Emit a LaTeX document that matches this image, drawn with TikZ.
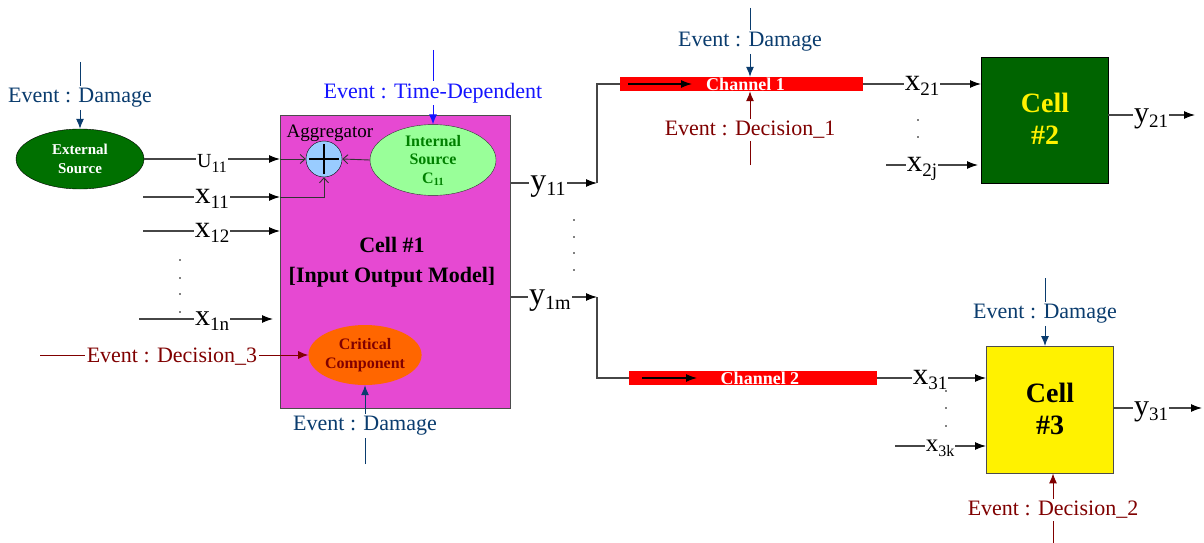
\documentclass[tikz,border=0pt]{standalone}
\usepackage{fontspec}
\setmainfont{Liberation Serif}
\usetikzlibrary{arrows.meta,shapes.geometric}
\definecolor{magC}{RGB}{230,73,210}
\definecolor{extgreen}{RGB}{0,112,0}
\definecolor{intgreen}{RGB}{153,255,153}
\definecolor{intText}{RGB}{0,128,0}
\definecolor{orangeC}{RGB}{255,102,0}
\definecolor{dred}{RGB}{128,0,0}
\definecolor{dblue}{RGB}{10,60,110}
\definecolor{tblue}{RGB}{20,20,255}
\definecolor{aggblue}{RGB}{153,204,255}
\definecolor{c2green}{RGB}{0,100,0}
\definecolor{wgray}{RGB}{70,70,70}
\newcommand\fs[1]{\fontsize{#1}{#1}\selectfont}
\newcommand\fsb[2]{\fontsize{#1}{#2}\selectfont}
\newcommand\sub[2]{\raisebox{-5pt}{\fontsize{#1}{#1}\selectfont #2}}
\begin{document}
\begin{tikzpicture}[x=1pt,y=-1pt,
  wire/.style={draw=wgray,line width=1.1pt},
  arr/.style={-{Latex[length=11pt,width=8pt,color=black]}},
  barb/.style={draw=black!80,line width=0.9pt,-{Straight Barb[length=5pt,width=9pt]}},
  evarr/.style={line width=1pt,-{Latex[length=10pt,width=8pt]}},
  evline/.style={line width=1pt},
  evtext/.style={font=\fs{22},inner sep=2pt,fill=white},
  siglab/.style={anchor=base,fill=white,inner sep=1pt},
  dotn/.style={circle,fill=black,inner sep=0pt,minimum size=1.8pt},
  chan/.style={fill=red,text=white,font=\bfseries\fs{18},inner sep=0pt,text height=12pt,text depth=0pt,minimum height=14pt}]
\useasboundingbox[fill=white] (0,0) rectangle (1204,543);

% ---------- Cell 1 ----------
\node[draw=black!70,line width=0.8pt,fill=magC,minimum width=230,minimum height=293,anchor=north west,inner sep=0] (c1) at (280,115) {};
\node[font=\bfseries\fsb{22}{30},align=center] (c1t) at (392,262) {Cell \#1\\{[}Input Output Model{]}};

\node[ellipse,draw=black,fill=extgreen,minimum width=128,minimum height=60,inner sep=0,text=white,font=\bfseries\fsb{15}{19},align=center] (ext) at (80,159) {External\\Source};
\node[circle,draw=black,fill=aggblue,minimum size=36,inner sep=0] (agg) at (324,159) {};
\draw[line width=2.8pt] ([xshift=-15pt]agg.center) -- ([xshift=15pt]agg.center);
\draw[line width=2.8pt] ([yshift=-15pt]agg.center) -- ([yshift=15pt]agg.center);
\node[font=\fs{19}] (agglab) at (330,133) {Aggregator};
\node[ellipse,draw=black!80,fill=intgreen,minimum width=126,minimum height=60,inner sep=0,text=intText,font=\bfseries\fsb{16}{18.5},align=center] (int) at (433,160) {Internal\\Source\\C\raisebox{-2pt}{\fs{11}11}};
\node[ellipse,fill=orangeC,minimum width=112,minimum height=60,inner sep=0,text=dred,font=\bfseries\fsb{16}{19},align=center] (crit) at (365,355) {Critical\\Component};

% inputs of cell 1
\coordinate (x11s) at (143,197);
\coordinate (x12s) at (143,231);
\coordinate (x1ns) at (139,319);
\coordinate (d3s) at (40,355);
\draw[wire,arr] (ext.east) -- (c1.west |- ext.east);
\draw[barb] (c1.west |- agg.west) -- (agg.west);
\draw[wire,arr] (x11s) -- (c1.west |- x11s);
\draw[barb] (c1.west |- x11s) -| (agg.south);
\draw[wire,arr] (x12s) -- (c1.west |- x12s);
\draw[wire,arr] (x1ns) -- ([xshift=-7pt]c1.west |- x1ns);
\draw[barb] (int.west) -- (agg.east);
\node[siglab,font=\fs{20}] (u11) at (212,167) {U\sub{16}{11}};
\node[siglab,font=\fs{31}] (x11) at (212,203) {x\sub{19}{11}};
\node[siglab,font=\fs{31}] (x12) at (212,237) {x\sub{19}{12}};
\node[siglab,font=\fs{30}] (x1n) at (212,325) {x\sub{19}{1n}};
\node[dotn] (dl1) at (180,260) {};
\node[dotn] (dl2) at (180,278) {};
\node[dotn] (dl3) at (180,294) {};
\node[dotn] (dl4) at (180,312) {};

% events of cell 1
\node[evtext,text=dblue] (ev1) at (80,98) {Event : Damage};
\coordinate (ev1t) at (80,62);
\draw[dblue,evline] (ev1t) -- (ev1.north);
\draw[dblue,evarr] (ev1.south) -- (ext.north);

\node[evtext,text=tblue] (evt) at (433,93) {Event : Time-Dependent};
\coordinate (evtt) at (433,50);
\draw[tblue,evline] (evtt) -- (evt.north);
\draw[tblue,evarr] (evt.south) -- (int.north);

\draw[dred,line width=1pt,-{Latex[length=10pt,width=8pt]}] (d3s) -- (crit.west);
\node[evtext,text=dred] (evd3) at (172,357) {Event : Decision\_3};

\node[evtext,text=dblue] (ev2) at (365,426) {Event : Damage};
\coordinate (ev2b) at (365,464);
\draw[dblue,evline] (ev2b) -- (ev2.south);
\draw[dblue,evarr] (ev2.north) -- (crit.south);

% ---------- outputs of cell 1 ----------
\coordinate (y11e) at (597,183);
\coordinate (y1me) at (597,297);
\draw[wire,arr] (c1.east |- y11e) -- (y11e);
\draw[wire,arr] (c1.east |- y1me) -- (y1me);
\node[siglab,font=\fs{32}] (y11) at (548,190) {y\sub{20}{11}};
\node[siglab,font=\fs{32}] (y1m) at (550,304) {y\sub{20}{1m}};
\node[dotn] (dm1) at (574,220) {};
\node[dotn] (dm2) at (574,237) {};
\node[dotn] (dm3) at (574,253) {};
\node[dotn] (dm4) at (574,270) {};

% ---------- Channel 1 ----------
\node[chan,minimum width=243] (ch1) at (741.5,84) {\hspace{8pt}Channel 1};
\draw[wire] (y11e) |- (ch1.west);
\coordinate (a1s) at (628,84);
\coordinate (a1e) at (692,84);
\draw[line width=1.1pt,-{Latex[length=11pt,width=8pt]}] (a1s) -- (a1e);
\node[evtext,text=dblue] (evc1) at (750,42) {Event : Damage};
\coordinate (evc1t) at (750,8);
\draw[dblue,evline] (evc1t) -- (evc1.north);
\draw[dblue,evarr] (evc1.south) -- (evc1.south |- ch1.north);
\node[evtext,text=dred] (evdec1) at (750,130) {Event : Decision\_1};
\coordinate (evdec1b) at (750,165);
\draw[dred,evline] (evdec1b) -- (evdec1.south);
\draw[dred,evarr] (evdec1.north) -- (evdec1.north |- ch1.south);

% ---------- Cell 2 ----------
\node[draw=black,fill=c2green,minimum width=127,minimum height=126,inner sep=0,anchor=north west] (c2) at (981,57) {};
\node[text=yellow,font=\bfseries\fs{28},align=center] (c2t) at (1045,119) {Cell\\[4pt]\#2};
\draw[wire,arr] (ch1.east) -- (c2.west |- ch1.east);
\coordinate (x2js) at (886,165);
\draw[wire,arr] (x2js) -- ([xshift=-3pt]c2.west |- x2js);
\coordinate (y21e) at (1195,115);
\draw[wire,arr] (c2.east |- y21e) -- (y21e);
\node[siglab,font=\fs{31}] (x21) at (922,90) {x\sub{19}{21}};
\node[siglab,font=\fs{31}] (x2j) at (922,171) {x\sub{19}{2j}};
\node[siglab,font=\fs{30}] (y21) at (1151,122) {y\sub{19}{21}};
\node[dotn] (dc21) at (918,120) {};
\node[dotn] (dc22) at (918,137) {};

% ---------- Channel 2 ----------
\node[chan,minimum width=248] (ch2) at (753,378) {\hspace{14pt}Channel 2};
\draw[wire] (y1me) |- (ch2.west);
\coordinate (a2s) at (642,378);
\coordinate (a2e) at (697,378);
\draw[line width=1.1pt,-{Latex[length=11pt,width=8pt]}] (a2s) -- (a2e);

% ---------- Cell 3 ----------
\node[draw=black!70,fill=yellow,minimum width=127,minimum height=127,inner sep=0,anchor=north west] (c3) at (986,346) {};
\node[text=black,font=\bfseries\fs{28},align=center] (c3t) at (1050,409) {Cell\\[4pt]\#3};
\draw[wire,arr] (ch2.east) -- (c3.west |- ch2.east);
\coordinate (x3ks) at (895,446);
\draw[wire,arr] (x3ks) -- (c3.west |- x3ks);
\coordinate (y31e) at (1202,408);
\draw[wire,arr] (c3.east |- y31e) -- (y31e);
\node[siglab,font=\fs{31}] (x31) at (930,384) {x\sub{19}{31}};
\node[siglab,font=\fs{25}] (x3k) at (940,451) {x\sub{16}{3k}};
\node[siglab,font=\fs{30}] (y31) at (1151,415) {y\sub{19}{31}};
\node[dotn] (dc31) at (946,391) {};
\node[dotn] (dc32) at (946,408) {};
\node[dotn] (dc33) at (946,426) {};

\node[evtext,text=dblue] (evc3) at (1045,314) {Event : Damage};
\coordinate (evc3t) at (1045,278);
\draw[dblue,evline] (evc3t) -- (evc3.north);
\draw[dblue,evarr] (evc3.south) -- (evc3.south |- c3.north);
\node[evtext,text=dred] (evdec2) at (1053,510) {Event : Decision\_2};
\coordinate (evdec2b) at (1053,543);
\draw[dred,evline] (evdec2b) -- (evdec2.south);
\draw[dred,evarr] (evdec2.north) -- (evdec2.north |- c3.south);
\end{tikzpicture}
\end{document}
